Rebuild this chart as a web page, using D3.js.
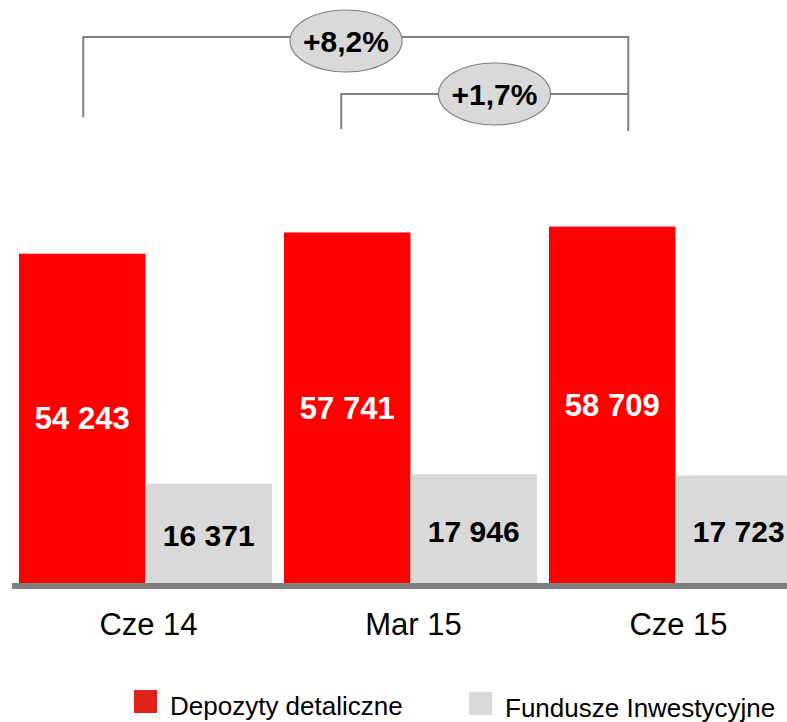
<!DOCTYPE html>
<meta charset="utf-8">
<title>depozyty</title>
<script src="https://cdn.jsdelivr.net/npm/d3@7"></script>
<style>
body { margin: 0; background: #fff; }
text { font-family: "Liberation Sans", Arial, sans-serif; }
.bracket { fill: none; stroke: #808080; stroke-width: 2px; }
</style>
<body>
<script>

// data
var categories = ["Cze 14", "Mar 15", "Cze 15"];
var depozyty = [54243, 57741, 58709];
var fundusze = [16371, 17946, 17723];
var seriesNames = ["Depozyty detaliczne", "Fundusze Inwestycyjne"];
var changes = [
  {from: 0, to: 2, label: "+8,2%"},
  {from: 1, to: 2, label: "+1,7%"}
];

var width = 787, height = 722;
var baseY = 583;

var svg = d3.select("body").append("svg")
    .attr("width", width)
    .attr("height", height);

var x0 = d3.scaleBand()
    .domain(categories)
    .range([19, 802])
    .paddingInner(0.0453)
    .paddingOuter(0);

var x1 = d3.scaleBand()
    .domain(["dep", "fun"])
    .range([0, x0.bandwidth()]);

var y = d3.scaleLinear()
    .domain([0, 58709])
    .range([baseY, 226.6]);

var fmt = function(v) { return d3.format(",")(v).replace(/,/g, " "); };

var rows = categories.map(function(c, i) {
  return {cat: c, dep: depozyty[i], fun: fundusze[i]};
});

var g = svg.selectAll(".grp")
    .data(rows)
  .enter().append("g")
    .attr("class", "grp")
    .attr("transform", function(d) { return "translate(" + x0(d.cat) + ",0)"; });

// red bars
g.append("rect")
    .attr("x", x1("dep"))
    .attr("y", function(d) { return y(d.dep); })
    .attr("width", x1.bandwidth())
    .attr("height", function(d) { return baseY - y(d.dep); })
    .attr("fill", "#ff0000");

// grey bars
g.append("rect")
    .attr("x", x1("fun"))
    .attr("y", function(d) { return y(d.fun); })
    .attr("width", x1.bandwidth())
    .attr("height", function(d) { return baseY - y(d.fun); })
    .attr("fill", "#d9d9d9");

g.append("text")
    .attr("x", x1("dep") + x1.bandwidth() / 2)
    .attr("y", function(d) { return (y(d.dep) + baseY) / 2 + 11; })
    .attr("text-anchor", "middle")
    .attr("font-size", "31px")
    .attr("font-weight", "bold")
    .attr("fill", "#fff")
    .text(function(d) { return fmt(d.dep); });

g.append("text")
    .attr("x", x1("fun") + x1.bandwidth() / 2)
    .attr("y", function(d) { return (y(d.fun) + baseY) / 2 + 13; })
    .attr("text-anchor", "middle")
    .attr("font-size", "30px")
    .attr("font-weight", "bold")
    .attr("fill", "#000")
    .text(function(d) { return fmt(d.fun); });

// axis line
svg.append("rect")
    .attr("x", 12)
    .attr("y", baseY)
    .attr("width", width - 12)
    .attr("height", 6)
    .attr("fill", "#808080");

// category labels
svg.selectAll(".cat")
    .data(categories)
  .enter().append("text")
    .attr("class", "cat")
    .attr("x", function(d) { return x0(d) + x0.bandwidth() / 2 + 3; })
    .attr("y", 635)
    .attr("text-anchor", "middle")
    .attr("font-size", "31px")
    .attr("fill", "#000")
    .text(function(d) { return d; });

// brackets
var redCenter = function(i) { return x0(categories[i]) + x1("dep") + x1.bandwidth() / 2; };
var rightX = redCenter(2) + 16;
var outerLeft = redCenter(0) + 1, innerLeft = redCenter(1) - 6;

svg.append("path")
    .attr("class", "bracket")
    .attr("d", "M" + outerLeft + ",117V37H" + rightX + "V131");
svg.append("path")
    .attr("class", "bracket")
    .attr("d", "M" + innerLeft + ",129V94H" + rightX);

var bubbles = [
  {cx: 346, cy: 41, label: changes[0].label},
  {cx: 494.5, cy: 94, label: changes[1].label}
];
var b = svg.selectAll(".bub")
    .data(bubbles)
  .enter().append("g")
    .attr("class", "bub");
b.append("ellipse")
    .attr("cx", function(d) { return d.cx; })
    .attr("cy", function(d) { return d.cy; })
    .attr("rx", 56)
    .attr("ry", 31)
    .attr("fill", "#d9d9d9")
    .attr("stroke", "#808080")
    .attr("stroke-width", 1.2);
b.append("text")
    .attr("x", function(d) { return d.cx; })
    .attr("y", function(d) { return d.cy + 11; })
    .attr("text-anchor", "middle")
    .attr("font-size", "30px")
    .attr("font-weight", "bold")
    .attr("fill", "#000")
    .text(function(d) { return d.label; });

// legend
var legend = [
  {name: seriesNames[0], color: "#e3211c", x: 134},
  {name: seriesNames[1], color: "#d9d9d9", x: 469}
];
var lg = svg.selectAll(".leg")
    .data(legend)
  .enter().append("g")
    .attr("class", "leg");
lg.append("rect")
    .attr("x", function(d) { return d.x; })
    .attr("y", function(d, i) { return 690 + i * 2; })
    .attr("width", 23)
    .attr("height", 23)
    .attr("fill", function(d) { return d.color; });
lg.append("text")
    .attr("x", function(d) { return d.x + 36; })
    .attr("y", function(d, i) { return 715 + i * 2; })
    .attr("font-size", "26px")
    .attr("fill", "#000")
    .text(function(d) { return d.name; });

</script>
</body>
</html>
